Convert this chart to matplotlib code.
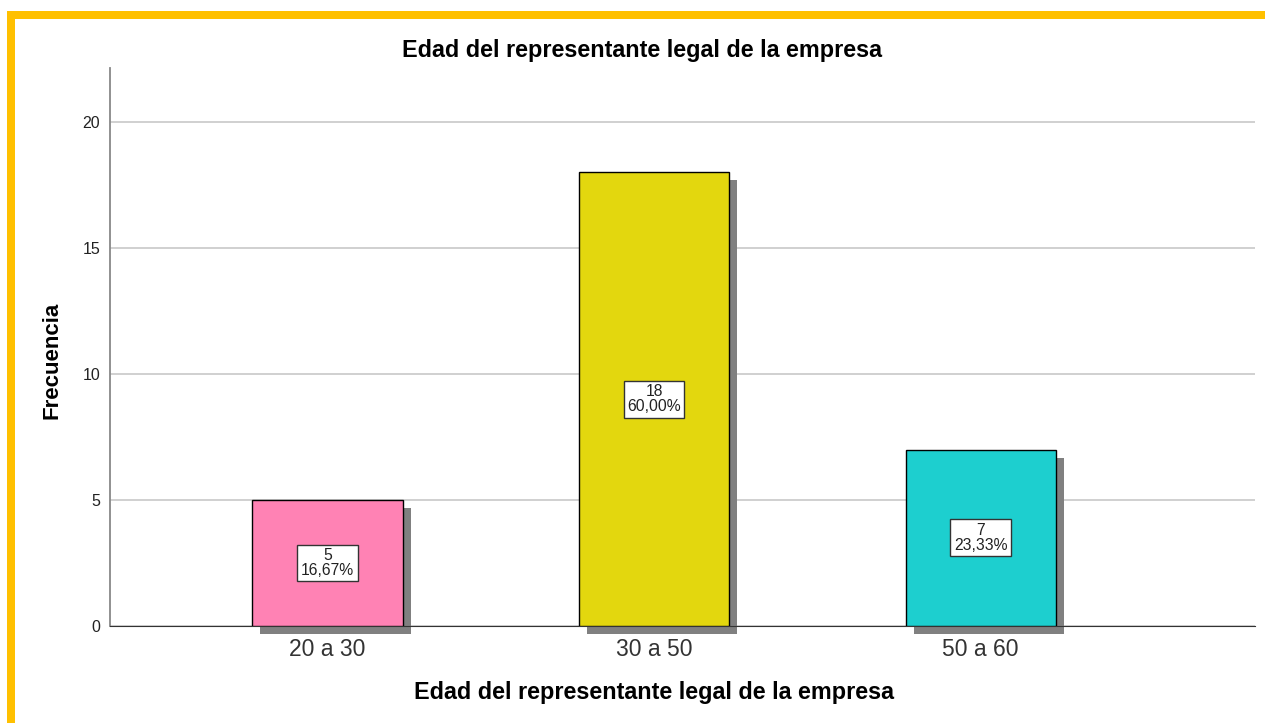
import matplotlib.pyplot as plt
from matplotlib.patches import Rectangle
import numpy as np

plt.rcParams['font.family'] = ['Liberation Sans', 'DejaVu Sans']

# Data
categorias = ['20 a 30', '30 a 50', '50 a 60']
frecuencia = np.array([5, 18, 7])
porcentaje = ['16,67%', '60,00%', '23,33%']
colores = ['#FF82B4', '#E3D70E', '#1DCFCF']

W, H = 1265, 723
fig = plt.figure(figsize=(W / 100, H / 100), dpi=100)
ax = fig.add_axes([110 / W, 1 - 626 / H, 1145 / W, (626 - 68) / H])

x = np.arange(len(categorias))
ancho = 0.46

# shadows (offset of about 8 px right / down)
dx = 8 / 326.5
dy = 8 / 25.2
for xi, f in zip(x, frecuencia):
    ax.add_patch(Rectangle((xi - ancho / 2 + dx, -dy), ancho, f, facecolor='#808080',
                           edgecolor='none', zorder=2, clip_on=False))

ax.bar(x, frecuencia, width=ancho, color=colores, edgecolor='black', linewidth=1, zorder=3)

for xi, f, p in zip(x, frecuencia, porcentaje):
    ax.text(xi, f / 2, f'{f}\n{p}', ha='center', va='center', fontsize=11.3, color='#222222',
            linespacing=1.0, zorder=4,
            bbox=dict(boxstyle='square,pad=0.22', facecolor='white', edgecolor='#333333', linewidth=1))

ax.set_xlim(-0.666, 2.84)
ax.set_ylim(0, 22.14)
ax.set_yticks([0, 5, 10, 15, 20])
ax.set_xticks(x)
ax.set_xticklabels(categorias, fontsize=16.5, color='#333333')
ax.tick_params(axis='y', labelsize=11.5, length=0, pad=7, colors='#222222')
ax.tick_params(axis='x', length=0, pad=9)
ax.yaxis.grid(True, color='#C8C8C8', linewidth=1.2, zorder=0)
ax.set_axisbelow(True)
for s in ['top', 'right']:
    ax.spines[s].set_visible(False)
ax.spines['left'].set_color('#888888')
ax.spines['left'].set_linewidth(1.3)
ax.spines['bottom'].set_color('#333333')

fig.text(642 / W, 1 - 50 / H, 'Edad del representante legal de la empresa', fontsize=16.8,
         fontweight='bold', ha='center', va='center')
fig.text(654 / W, 1 - 692 / H, 'Edad del representante legal de la empresa', fontsize=16.8,
         fontweight='bold', ha='center', va='center')
fig.text(52 / W, 1 - 360 / H, 'Frecuencia', fontsize=16, fontweight='bold', rotation=90,
         ha='center', va='center')

# yellow frame
fig.patches.append(Rectangle((7 / W, 0), 8 / W, 1 - 11 / H, transform=fig.transFigure,
                             facecolor='#FFC000', edgecolor='none'))
fig.patches.append(Rectangle((7 / W, 1 - 19 / H), 1 - 7 / W, 8 / H, transform=fig.transFigure,
                             facecolor='#FFC000', edgecolor='none'))

fig.savefig('out.png', dpi=100)
